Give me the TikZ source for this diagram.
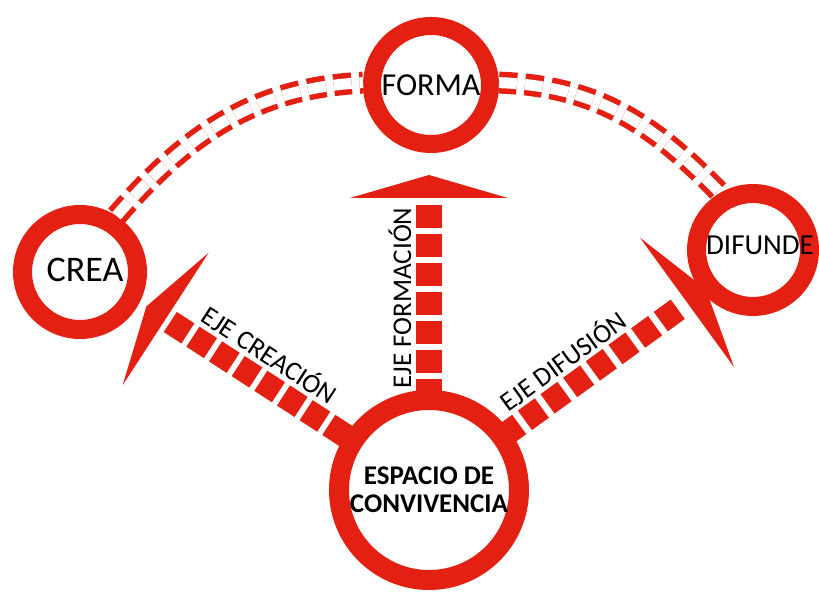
\documentclass[tikz,border=0pt]{standalone}
\usepackage{fontspec}
\setmainfont{Carlito}
\definecolor{ejered}{RGB}{228,32,18}

\tikzset{
  ring/.style={circle, draw=ejered, inner sep=0pt, align=center},
  tie/.style={draw=ejered, double=white, double distance=5.5pt, line width=2.75pt, dash pattern=on 9pt off 4pt},
  axislabel/.style={inner sep=0pt, font=\fontsize{13.5}{15}\selectfont},
}

\begin{document}
\begin{tikzpicture}[x=0.5pt, y=0.5pt]
    \useasboundingbox (0,0) rectangle (819,599);

    % Circles
    \node[ring, line width=10pt, minimum size=90pt, font=\bfseries\fontsize{13.5}{14}\selectfont] (esp) at (429,109) {ESPACIO DE\\CONVIVENCIA};
    \node[ring, line width=9pt, minimum size=59pt, font=\fontsize{16}{18}\selectfont] (forma) at (431,514) {FORMA};
    \node[ring, line width=9.5pt, minimum size=57.5pt] (crea) at (80,327) {};
    \node[ring, line width=9.5pt, minimum size=56.5pt] (difunde) at (753,349) {};

    % Texts of the side circles
    \node[font=\fontsize{18}{20}\selectfont, inner sep=0pt] (tcrea) at (85,329) {CREA};
    \node[font=\fontsize{14.5}{16}\selectfont, inner sep=0pt] (tdif) at (760,354) {DIFUNDE};

    % Dashed ties between circles
    \draw[tie] (crea.57) to[out=49, in=183] (forma.178);
    \draw[tie] (forma.2) to[out=-2, in=134] (difunde.120);

    % Eje formacion
    \begin{scope}[shift={(esp.center)}, rotate=90]
        \fill[ejered] (292,-79) -- (315,0) -- (292,79) -- cycle;
        \fill[ejered] (262,-13) rectangle (285,13);
        \fill[ejered] (233,-13) rectangle (256,13);
        \fill[ejered] (204,-13) rectangle (227,13);
        \fill[ejered] (175,-13) rectangle (198,13);
        \fill[ejered] (146,-13) rectangle (169,13);
        \fill[ejered] (117,-13) rectangle (140,13);
        \fill[ejered] (88,-13) rectangle (111,13);
        \node[axislabel, rotate=90] (lform) at (192,29) {EJE FORMACIÓN};
    \end{scope}

    % Eje creacion
    \begin{scope}[shift={(esp.center)}, rotate=147]
        \fill[ejered] (314,-79) -- (337,0) -- (314,79) -- cycle;
        \fill[ejered] (287.5,-12) rectangle (308.5,12);
        \fill[ejered] (260.5,-12) rectangle (281.5,12);
        \fill[ejered] (233.5,-12) rectangle (254.5,12);
        \fill[ejered] (206.5,-12) rectangle (227.5,12);
        \fill[ejered] (179.5,-12) rectangle (200.5,12);
        \fill[ejered] (152.5,-12) rectangle (173.5,12);
        \fill[ejered] (125.5,-12) rectangle (146.5,12);
        \fill[ejered] (98.5,-12) rectangle (119.5,12);
        \node[axislabel, rotate=-33] (lcrea) at (207,-28) {EJE CREACIÓN};
    \end{scope}

    % Eje difusion
    \begin{scope}[shift={(esp.center)}, rotate=36]
        \fill[ejered] (319,-80) -- (342,0) -- (319,80) -- cycle;
        \fill[ejered] (286.5,-12) rectangle (307.5,12);
        \fill[ejered] (258.5,-12) rectangle (279.5,12);
        \fill[ejered] (230.5,-12) rectangle (251.5,12);
        \fill[ejered] (202.5,-12) rectangle (223.5,12);
        \fill[ejered] (174.5,-12) rectangle (195.5,12);
        \fill[ejered] (146.5,-12) rectangle (167.5,12);
        \fill[ejered] (118.5,-12) rectangle (139.5,12);
        \fill[ejered] (90.5,-12) rectangle (111.5,12);
        \node[axislabel, rotate=36] (ldif) at (184,27) {EJE DIFUSIÓN};
    \end{scope}

\end{tikzpicture}
\end{document}
